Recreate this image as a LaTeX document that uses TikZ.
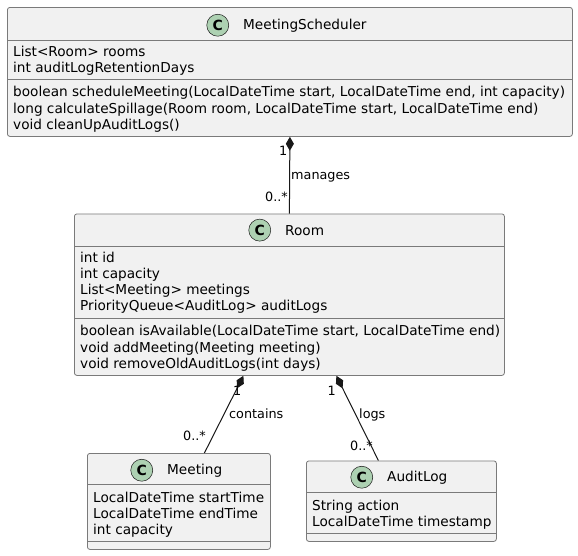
\documentclass[tikz,border=0pt]{standalone}
\usepackage{fontspec}
\setmainfont{DejaVu Sans}
\usepackage{tikz}
\usetikzlibrary{arrows.meta, positioning}
\definecolor{boxfill}{HTML}{F1F1F1}
\definecolor{boxline}{HTML}{181818}
\definecolor{boxedge}{HTML}{7A7A7A}
\definecolor{badgefill}{HTML}{ADD1B2}

\begin{document}
\begin{tikzpicture}[x=1pt, y=-1pt,
    font=\fontsize{13.65}{16}\selectfont,
    cls/.style={draw=boxedge, fill=boxfill, line width=0.8pt, rounded corners=2.5pt, anchor=north west, inner sep=0pt},
    sepline/.style={draw=boxedge, line width=0.8pt},
    badge/.style={circle, draw=boxline, fill=badgefill, line width=0.5pt, minimum size=22pt, inner sep=0pt, font=\fontsize{14}{14}\selectfont\bfseries},
    clsname/.style={anchor=base west, inner sep=0pt},
    member/.style={anchor=base west, inner sep=0pt},
    mult/.style={inner sep=0pt, font=\fontsize{12.8}{13}\selectfont},
    comp/.style={draw=boxline, line width=1pt, {Diamond[length=14pt, width=8pt]}-},
    ]

    \path[fill=white, use as bounding box] (0,0) rectangle (578,555);

    % MeetingScheduler
    \node[cls, minimum width=565pt, minimum height=129pt] (ms) at (7,7) {};
    \draw[sepline] ([yshift=-33pt]ms.north west) -- ([yshift=-33pt]ms.north east);
    \draw[sepline] ([yshift=-72pt]ms.north west) -- ([yshift=-72pt]ms.north east);
    \node[clsname] (ms-name) at (243,29) {MeetingScheduler};
    \node[badge, left=14pt of ms-name] (ms-badge) {C};
    \node[member] (ms-a1) at (13,56) {List<Room> rooms};
    \node[member] (ms-a2) at (13,72.3) {int auditLogRetentionDays};
    \node[member] (ms-m1) at (13,96.7) {boolean scheduleMeeting(LocalDateTime start, LocalDateTime end, int capacity)};
    \node[member] (ms-m2) at (13,113) {long calculateSpillage(Room room, LocalDateTime start, LocalDateTime end)};
    \node[member] (ms-m3) at (13,129.3) {void cleanUpAuditLogs()};

    % Room
    \node[cls, minimum width=430pt, minimum height=161.5pt] (room) at (74,213.5) {};
    \draw[sepline] ([yshift=-32.5pt]room.north west) -- ([yshift=-32.5pt]room.north east);
    \draw[sepline] ([yshift=-104.5pt]room.north west) -- ([yshift=-104.5pt]room.north east);
    \node[clsname] (room-name) at (285,235) {Room};
    \node[badge, left=14pt of room-name] (room-badge) {C};
    \node[member] (room-a1) at (80,262) {int id};
    \node[member] (room-a2) at (80,278.3) {int capacity};
    \node[member] (room-a3) at (80,294.6) {List<Meeting> meetings};
    \node[member] (room-a4) at (80,310.9) {PriorityQueue<AuditLog> auditLogs};
    \node[member] (room-m1) at (80,335.7) {boolean isAvailable(LocalDateTime start, LocalDateTime end)};
    \node[member] (room-m2) at (80,352) {void addMeeting(Meeting meeting)};
    \node[member] (room-m3) at (80,368.3) {void removeOldAuditLogs(int days)};

    % Meeting
    \node[cls, minimum width=183pt, minimum height=96pt] (meeting) at (87,453) {};
    \draw[sepline] ([yshift=-31pt]meeting.north west) -- ([yshift=-31pt]meeting.north east);
    \draw[sepline] ([yshift=-88pt]meeting.north west) -- ([yshift=-88pt]meeting.north east);
    \node[clsname] (meeting-name) at (167,474) {Meeting};
    \node[badge, left=14pt of meeting-name] (meeting-badge) {C};
    \node[member] (meeting-a1) at (93,502) {LocalDateTime startTime};
    \node[member] (meeting-a2) at (93,518.3) {LocalDateTime endTime};
    \node[member] (meeting-a3) at (93,534.6) {int capacity};

    % AuditLog
    \node[cls, minimum width=190pt, minimum height=80.5pt] (audit) at (306,460.5) {};
    \draw[sepline] ([yshift=-31.5pt]audit.north west) -- ([yshift=-31.5pt]audit.north east);
    \draw[sepline] ([yshift=-72.5pt]audit.north west) -- ([yshift=-72.5pt]audit.north east);
    \node[clsname] (audit-name) at (387,481) {AuditLog};
    \node[badge, left=14pt of audit-name] (audit-badge) {C};
    \node[member] (audit-a1) at (312,510) {String action};
    \node[member] (audit-a2) at (312,526.3) {LocalDateTime timestamp};

    % Compositions
    \draw[comp] (ms.south) -- (room.north);
    \draw[comp] ([xshift=-46pt]room.south) -- ([xshift=25.5pt]meeting.north);
    \draw[comp] ([xshift=47pt]room.south) -- ([xshift=-23pt]audit.north);

    % Multiplicities and labels
    \node[mult, anchor=base east] (ms-one) at (287.5,155) {1};
    \node[mult, anchor=base west] (manages) at (291,179) {manages};
    \node[mult, anchor=base east] (room-many) at (288,201.5) {0..*};
    \node[mult, anchor=base east] (room-one-c) at (241.5,395.5) {1};
    \node[mult, anchor=base west] (contains) at (229,418) {contains};
    \node[mult, anchor=base east] (meeting-many) at (206,440.5) {0..*};
    \node[mult, anchor=base east] (room-one-l) at (336,395.5) {1};
    \node[mult, anchor=base west] (logs) at (359,418) {logs};
    \node[mult, anchor=base east] (audit-many) at (373,450) {0..*};
  \end{tikzpicture}
\end{document}
